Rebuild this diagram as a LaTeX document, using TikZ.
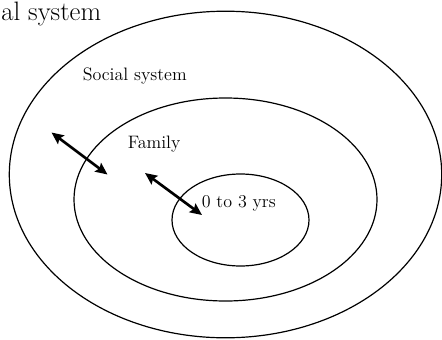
\documentclass[tikz,border=0pt]{standalone}
\usetikzlibrary{arrows.meta}
\begin{document}
\begin{tikzpicture}[x=0.75pt,y=-0.75pt,
  ring/.style={draw=black,line width=0.9pt},
  link/.style={line width=2pt,{Stealth[length=9pt,width=8pt,inset=1.5pt]}-{Stealth[length=9pt,width=8pt,inset=1.5pt]}},
  lbl/.style={inner sep=0pt,anchor=base west,font=\fontsize{13.5}{15}\selectfont}]
\useasboundingbox (0,0) rectangle (442,339);
% nested circles of influence
\draw[ring] (225.5,174.5) ellipse [x radius=216.2, y radius=163.3];
\draw[ring] (225.5,199.5) ellipse [x radius=151.5, y radius=101.5];
\draw[ring] (240.5,220) ellipse [x radius=68.5, y radius=46];
% labels
\node[lbl,font=\fontsize{20}{24}\selectfont] (title) at (1,20) {al system};
\node[lbl] (social) at (82.5,80) {Social system};
\node[lbl] (family) at (127.5,148) {Family};
\node[lbl] (child) at (201.5,207) {0 to 3 yrs};
% two-way interactions across the boundaries
\coordinate (a1) at (51.5,132.5);
\coordinate (a2) at (107.5,174.5);
\coordinate (b1) at (145,173);
\coordinate (b2) at (202,215);
\draw[link] (a1) -- (a2);
\draw[link] (b1) -- (b2);
\end{tikzpicture}
\end{document}
